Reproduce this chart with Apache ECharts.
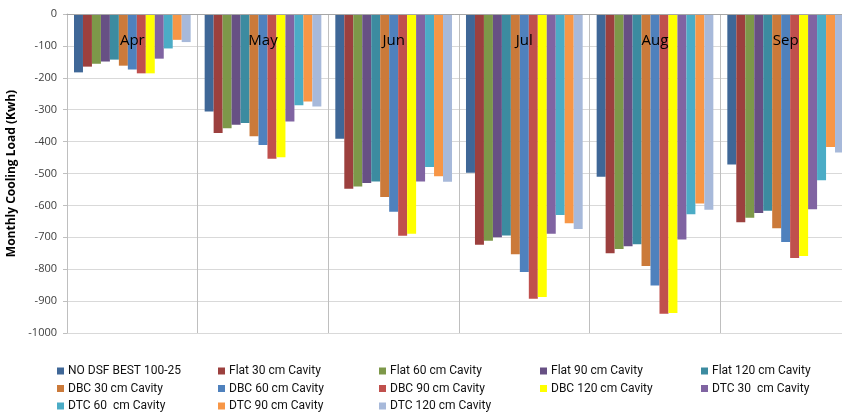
<!DOCTYPE html>
<html><head><meta charset="utf-8">
<script src="https://cdn.jsdelivr.net/npm/echarts@6/dist/echarts.min.js"></script>
<style>html,body{margin:0;padding:0;background:#fff}#c{width:842px;height:414px}</style>
</head><body><div id="c"></div>
<script>
var categories = ['Apr','May','Jun','Jul','Aug','Sep'];
var seriesNames = ['NO DSF BEST 100-25','Flat 30 cm Cavity','Flat 60 cm Cavity','Flat 90 cm Cavity','Flat 120 cm Cavity','DBC 30 cm Cavity','DBC 60 cm Cavity','DBC 90 cm Cavity','DBC 120 cm Cavity','DTC 30  cm Cavity','DTC 60  cm Cavity','DTC 90 cm Cavity','DTC 120 cm Cavity'];
var noDsf    = [-183,-306,-391,-498,-510,-472];
var flat30   = [-165,-373,-548,-723,-750,-653];
var flat60   = [-156,-358,-541,-711,-737,-639];
var flat90   = [-149,-347,-530,-700,-728,-624];
var flat120  = [-143,-342,-525,-694,-722,-617];
var dbc30    = [-162,-383,-574,-753,-790,-672];
var dbc60    = [-174,-411,-620,-809,-851,-715];
var dbc90    = [-186,-454,-695,-893,-940,-765];
var dbc120   = [-186,-449,-689,-887,-937,-759];
var dtc30    = [-140,-337,-525,-689,-707,-612];
var dtc60    = [-108,-286,-480,-630,-628,-521];
var dtc90    = [-81,-274,-509,-656,-594,-417];
var dtc120   = [-88,-290,-526,-674,-614,-434];
var yTicks = [0,-100,-200,-300,-400,-500,-600,-700,-800,-900,-1000];

var values = [noDsf,flat30,flat60,flat90,flat120,dbc30,dbc60,dbc90,dbc120,dtc30,dtc60,dtc90,dtc120];
var colors = ['#3F6797','#9C403E','#7D9849','#675084','#3C8BA0','#CB7A3A','#4F81BD','#C0504D','#FFFF00','#8064A2','#4BACC6','#F79646','#A7B9DA'];

var series = values.map(function(v,i){
  return {name: seriesNames[i], type:'bar', data:v, barGap:'0%', barCategoryGap:'10.7%',
    itemStyle:{color:colors[i]}};
});
var legends = seriesNames.map(function(n,i){
  return {data:[n], left: 57 + (i%5)*161, top: 365 + Math.floor(i/5)*17.5, padding:0,
    itemWidth:7, itemHeight:7, icon:'rect', itemGap:4,
    textStyle:{fontSize:12, color:'#111', fontFamily:'Liberation Sans Narrow, Roboto, sans-serif', padding:[0,0,0,-1]}};
});

var chart = echarts.init(document.getElementById('c'));
chart.setOption({
  animation:false,
  color: colors,
  legend: legends,
  grid:{left:67, top:14, width:784, height:319, containLabel:false, outerBoundsMode:'none'},
  xAxis:{type:'category', data:categories, position:'top', z:10,
    axisLine:{lineStyle:{color:'#A6A6A6'}}, axisTick:{show:false},
    axisLabel:{inside:true, margin:19, fontSize:15, color:'#000', fontFamily:'Open Sans, sans-serif'},
    splitLine:{show:true, lineStyle:{color:'#BFBFBF'}}},
  yAxis:{type:'value', min:-1000, max:0, interval:100,
    name:'Monthly Cooling Load (Kwh)', nameLocation:'middle', nameGap:44, nameRotate:90,
    nameTextStyle:{fontSize:12, fontWeight:'bold', color:'#000', fontFamily:'Open Sans, sans-serif'},
    axisLine:{show:true, lineStyle:{color:'#BFBFBF'}},
    axisTick:{show:true, length:4, lineStyle:{color:'#BFBFBF'}},
    axisLabel:{margin:10, fontSize:11, color:'#404040', fontFamily:'Open Sans, sans-serif',
      formatter:function(v){ return yTicks.indexOf(v)>=0 ? String(v) : ''; }},
    splitLine:{lineStyle:{color:'#D9D9D9'}}},
  series: series
});
</script></body></html>
